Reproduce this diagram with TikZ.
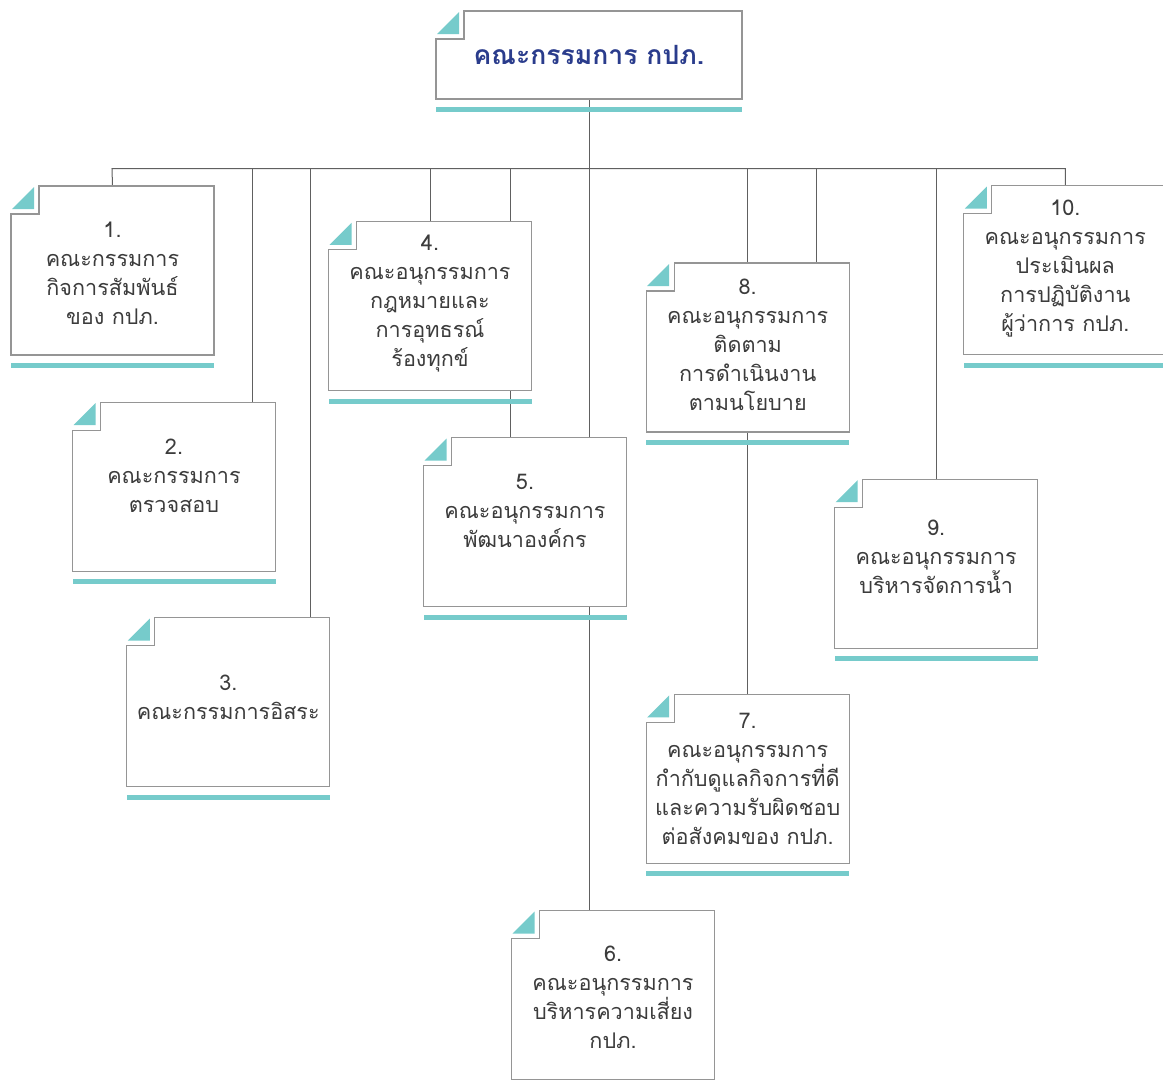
\documentclass[tikz,border=0pt]{standalone}
\usepackage{fontspec}
\newfontfamily\thai[Script=Thai]{Loma}
\definecolor{teal1}{HTML}{76CBCB}
\definecolor{boxgray}{HTML}{959595}
\definecolor{conngray}{HTML}{606060}
\definecolor{txtgray}{HTML}{3C3C3C}
\definecolor{titleblue}{HTML}{2A3C8C}
\pgfdeclarelayer{bg}
\pgfsetlayers{bg,main}
\tikzset{
  boxnode/.style={rectangle, inner sep=0pt, outer sep=0pt, minimum width=152.25pt, minimum height=126.75pt, fill=white},
  topnode/.style={rectangle, inner sep=0pt, outer sep=0pt, minimum width=229.5pt, minimum height=66pt, fill=white, font=\thai\bfseries\fontsize{19.9}{24}\selectfont, text=titleblue},
  boxline/.style={draw=boxgray, line width=1pt},
  conn/.style={draw=conngray, line width=0.75pt},
  txt/.style={align=center, inner sep=0pt, text=txtgray, font=\thai\fontsize{16.2}{21.75}\selectfont},
}
\newcommand\mydeco[1]{%
  \draw[boxline] ([yshift=-21pt]#1.north west) -| ([xshift=21pt]#1.north west) -- (#1.north east) -- (#1.south east) -- (#1.south west) -- cycle;
  \fill[teal1] ([xshift=0.75pt,yshift=-17.25pt]#1.north west) -- ([xshift=17.25pt,yshift=-17.25pt]#1.north west) -- ([xshift=17.25pt,yshift=-0.75pt]#1.north west) -- cycle;
  \fill[teal1] ([yshift=-6pt]#1.south west) rectangle ([yshift=-9.75pt]#1.south east);
}
\begin{document}
\begin{tikzpicture}[x=0.75pt,y=-0.75pt]
\useasboundingbox (0,0) rectangle (1163,1086);
\clip (0,0) rectangle (1163,1086);
% boxes
\node[topnode] (top) at (589,55) {คณะกรรมการ กปภ.};
\node[boxnode] (b1) at (112.5,270.5) {};
\node[boxnode] (b2) at (174,486.7) {};
\node[boxnode] (b3) at (228.3,702) {};
\node[boxnode] (b4) at (430,306.3) {};
\node[boxnode] (b5) at (525,522) {};
\node[boxnode] (b6) at (613,995) {};
\node[boxnode] (b7) at (747.7,778.8) {};
\node[boxnode] (b8) at (747.7,347.5) {};
\node[boxnode] (b9) at (936.2,563.7) {};
\node[boxnode] (b10) at (1065.3,270) {};
\mydeco{top}
\foreach \b in {b1,b2,b3,b4,b5,b6,b7,b8,b9,b10} {\mydeco{\b}}
% texts
\node[txt] (l1) at (112.5,273.7) {1.\\คณะกรรมการ\\กิจการสัมพันธ์\\ของ กปภ.};
\node[txt] (l2) at (174,475.3) {2.\\คณะกรรมการ\\ตรวจสอบ};
\node[txt] (l3) at (228.3,697.5) {3.\\คณะกรรมการอิสระ};
\node[txt] (l4) at (430,304) {4.\\คณะอนุกรรมการ\\กฎหมายและ\\การอุทธรณ์\\ร้องทุกข์};
\node[txt] (l5) at (525,511.3) {5.\\คณะอนุกรรมการ\\พัฒนาองค์กร};
\node[txt] (l6) at (613,997.7) {6.\\คณะอนุกรรมการ\\บริหารความเสี่ยง\\กปภ.};
\node[txt] (l7) at (747.7,779) {7.\\คณะอนุกรรมการ\\กำกับดูแลกิจการที่ดี\\และความรับผิดชอบ\\ต่อสังคมของ กปภ.};
\node[txt] (l8) at (747.7,345) {8.\\คณะอนุกรรมการ\\ติดตาม\\การดำเนินงาน\\ตามนโยบาย};
\node[txt] (l9) at (936.2,556.7) {9.\\คณะอนุกรรมการ\\บริหารจัดการน้ำ};
\node[txt] (l10) at (1065.3,268.4) {10.\\คณะอนุกรรมการ\\ประเมินผล\\การปฏิบัติงาน\\ผู้ว่าการ กปภ.};
% connectors
\coordinate (busL) at (112,168.5);
\coordinate (busR) at (1065.3,168.5);
\coordinate (t2) at (252.3,168.5);
\coordinate (t3) at (310,168.5);
\coordinate (t5) at (510.7,168.5);
\coordinate (t8) at (816.7,168.5);
\begin{pgfonlayer}{bg}
\fill[white] (0,0) rectangle (1163,1086);
\draw[conn] (b1.north) -- (busL) -- (busR) -- (b10.north);
\draw[conn] (top.south) -- (b6.north -| top.south);
\draw[conn] (t2) -- (t2 |- b2.north);
\draw[conn] (t3) -- (t3 |- b3.north);
\draw[conn] (b4.north) -- (b4.north |- busL);
\draw[conn] (t5) -- (t5 |- b5.north);
\draw[conn] (b7.north) -- (b7.north |- busL);
\draw[conn] (t8) -- (t8 |- b8.north);
\draw[conn] (b9.north) -- (b9.north |- busL);
\end{pgfonlayer}
\end{tikzpicture}
\end{document}
